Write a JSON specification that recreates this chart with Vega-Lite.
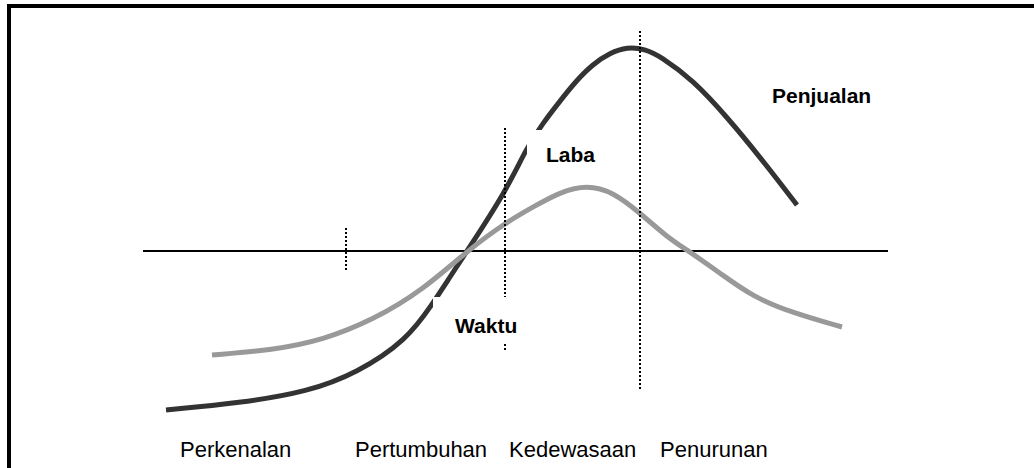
{
  "$schema": "https://vega.github.io/schema/vega-lite/v6.json",
  "width": 1034,
  "height": 468,
  "padding": 0,
  "autosize": {"type": "none"},
  "background": "white",
  "config": {"view": {"stroke": null}},
  "datasets": {
    "frame": [
      {"part": "top", "t": 7, "t2": 1034, "v": 245, "v2": 245},
      {"part": "left", "t": 9, "t2": 9, "v": 247, "v2": -217}
    ],
    "axisline": [
      {"part": "waktu", "t": 143, "t2": 888, "v": 0, "v2": 0}
    ],
    "curves": [
      {"series": "Penjualan", "t": 166, "v": -159},
      {"series": "Penjualan", "t": 240, "v": -152},
      {"series": "Penjualan", "t": 307, "v": -141},
      {"series": "Penjualan", "t": 357, "v": -122},
      {"series": "Penjualan", "t": 407, "v": -89},
      {"series": "Penjualan", "t": 433, "v": -52},
      {"series": "Penjualan", "t": 448, "v": -29},
      {"series": "Penjualan", "t": 467, "v": 0},
      {"series": "Penjualan", "t": 505, "v": 58},
      {"series": "Penjualan", "t": 527, "v": 104},
      {"series": "Penjualan", "t": 543, "v": 128},
      {"series": "Penjualan", "t": 560, "v": 150},
      {"series": "Penjualan", "t": 576, "v": 170},
      {"series": "Penjualan", "t": 593, "v": 187},
      {"series": "Penjualan", "t": 610, "v": 198},
      {"series": "Penjualan", "t": 627, "v": 204},
      {"series": "Penjualan", "t": 645, "v": 202},
      {"series": "Penjualan", "t": 660, "v": 195},
      {"series": "Penjualan", "t": 693, "v": 171},
      {"series": "Penjualan", "t": 727, "v": 134},
      {"series": "Penjualan", "t": 760, "v": 94},
      {"series": "Penjualan", "t": 797, "v": 46},
      {"series": "Laba", "t": 212, "v": -104},
      {"series": "Laba", "t": 273, "v": -99},
      {"series": "Laba", "t": 323, "v": -89},
      {"series": "Laba", "t": 373, "v": -69},
      {"series": "Laba", "t": 423, "v": -39},
      {"series": "Laba", "t": 467, "v": 0},
      {"series": "Laba", "t": 505, "v": 28},
      {"series": "Laba", "t": 533, "v": 44},
      {"series": "Laba", "t": 560, "v": 59},
      {"series": "Laba", "t": 587, "v": 66},
      {"series": "Laba", "t": 613, "v": 59},
      {"series": "Laba", "t": 640, "v": 38},
      {"series": "Laba", "t": 667, "v": 14},
      {"series": "Laba", "t": 687, "v": 1},
      {"series": "Laba", "t": 720, "v": -22},
      {"series": "Laba", "t": 753, "v": -46},
      {"series": "Laba", "t": 793, "v": -62},
      {"series": "Laba", "t": 842, "v": -76}
    ],
    "dividers": [
      {"t": 346, "t2": 346, "v": 23, "v2": -20},
      {"t": 505, "t2": 505, "v": 123, "v2": -101},
      {"t": 640, "t2": 640, "v": 220, "v2": -139}
    ],
    "boxes": [
      {"label": "Laba", "t": 527, "t2": 615, "v": 121, "v2": 79},
      {"label": "Waktu", "t": 433, "t2": 560, "v": -46, "v2": -92}
    ],
    "boldlabels": [
      {"label": "Penjualan", "t": 772, "v": 148},
      {"label": "Laba", "t": 546, "v": 89},
      {"label": "Waktu", "t": 455, "v": -82}
    ],
    "stages": [
      {"label": "Perkenalan", "t": 180, "v": -206},
      {"label": "Pertumbuhan", "t": 355, "v": -206},
      {"label": "Kedewasaan", "t": 509, "v": -206},
      {"label": "Penurunan", "t": 660, "v": -206}
    ]
  },
  "layer": [
    {
      "data": {"name": "frame"},
      "mark": {"type": "rule", "color": "black", "strokeWidth": 4, "clip": false},
      "encoding": {
        "x": {"field": "t", "type": "quantitative", "scale": {"domain": [0, 1034], "nice": false, "zero": false}, "axis": null},
        "x2": {"field": "t2"},
        "y": {"field": "v", "type": "quantitative", "scale": {"domain": [-217, 251], "nice": false, "zero": false}, "axis": null},
        "y2": {"field": "v2"}
      }
    },
    {
      "data": {"name": "axisline"},
      "mark": {"type": "rule", "color": "black", "strokeWidth": 2},
      "encoding": {
        "x": {"field": "t", "type": "quantitative", "scale": {"domain": [0, 1034], "nice": false, "zero": false}, "axis": null},
        "x2": {"field": "t2"},
        "y": {"field": "v", "type": "quantitative", "scale": {"domain": [-217, 251], "nice": false, "zero": false}, "axis": null},
        "y2": {"field": "v2"}
      }
    },
    {
      "data": {"name": "curves"},
      "mark": {"type": "line", "interpolate": "basis", "strokeWidth": 5, "strokeCap": "butt"},
      "encoding": {
        "x": {"field": "t", "type": "quantitative", "scale": {"domain": [0, 1034], "nice": false, "zero": false}, "axis": null},
        "y": {"field": "v", "type": "quantitative", "scale": {"domain": [-217, 251], "nice": false, "zero": false}, "axis": null},
        "color": {"field": "series", "type": "nominal", "scale": {"domain": ["Penjualan", "Laba"], "range": ["#333333", "#999999"]}, "legend": null},
        "order": {"field": "t", "type": "quantitative"}
      }
    },
    {
      "data": {"name": "dividers"},
      "mark": {"type": "rule", "color": "black", "strokeWidth": 2, "strokeDash": [2, 2]},
      "encoding": {
        "x": {"field": "t", "type": "quantitative", "scale": {"domain": [0, 1034], "nice": false, "zero": false}, "axis": null},
        "x2": {"field": "t2"},
        "y": {"field": "v", "type": "quantitative", "scale": {"domain": [-217, 251], "nice": false, "zero": false}, "axis": null},
        "y2": {"field": "v2"}
      }
    },
    {
      "data": {"name": "boxes"},
      "mark": {"type": "rect", "color": "white"},
      "encoding": {
        "x": {"field": "t", "type": "quantitative", "scale": {"domain": [0, 1034], "nice": false, "zero": false}, "axis": null},
        "x2": {"field": "t2"},
        "y": {"field": "v", "type": "quantitative", "scale": {"domain": [-217, 251], "nice": false, "zero": false}, "axis": null},
        "y2": {"field": "v2"}
      }
    },
    {
      "data": {"name": "boldlabels"},
      "mark": {"type": "text", "align": "left", "baseline": "alphabetic", "font": "Liberation Sans", "fontSize": 21, "fontWeight": "bold", "color": "black"},
      "encoding": {
        "x": {"field": "t", "type": "quantitative", "scale": {"domain": [0, 1034], "nice": false, "zero": false}, "axis": null},
        "y": {"field": "v", "type": "quantitative", "scale": {"domain": [-217, 251], "nice": false, "zero": false}, "axis": null},
        "text": {"field": "label"}
      }
    },
    {
      "data": {"name": "stages"},
      "mark": {"type": "text", "align": "left", "baseline": "alphabetic", "font": "Liberation Sans", "fontSize": 22, "color": "black"},
      "encoding": {
        "x": {"field": "t", "type": "quantitative", "scale": {"domain": [0, 1034], "nice": false, "zero": false}, "axis": null},
        "y": {"field": "v", "type": "quantitative", "scale": {"domain": [-217, 251], "nice": false, "zero": false}, "axis": null},
        "text": {"field": "label"}
      }
    }
  ]
}
